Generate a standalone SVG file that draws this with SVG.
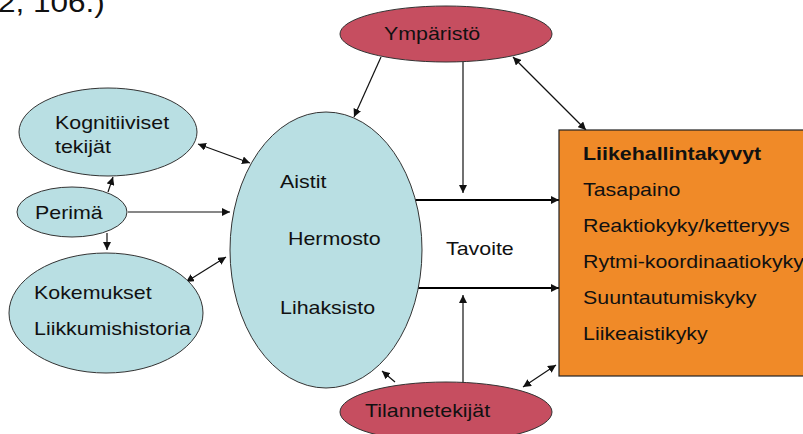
<svg xmlns="http://www.w3.org/2000/svg" width="803" height="434" viewBox="0 0 803 434">
<defs>
<style>
text{font-family:"Liberation Sans",Arial,sans-serif;font-size:19px;fill:#111;}
.blue{fill:#B9DFE3;stroke:#333;stroke-width:1;}
.red{fill:#C64E60;stroke:#333;stroke-width:1;}
.orange{fill:#F08A28;stroke:#222;stroke-width:1.2;}
.c{stroke:#111;stroke-width:1.2;fill:none;}
.thick{stroke:#000;stroke-width:2.2;fill:none;}
</style>
<marker id="ah" viewBox="0 0 10 10" refX="10" refY="5" markerWidth="8" markerHeight="8" markerUnits="userSpaceOnUse" orient="auto-start-reverse">
<path d="M0,0 L10,5 L0,10 z" fill="#111"/>
</marker>
</defs>
<rect width="803" height="434" fill="#fff"/>
<text transform="translate(-2 12) scale(1.126 1)" style="font-size:28px">2, 106.)</text>

<g id="connectors">
<line class="c" x1="381" y1="57" x2="354" y2="117" marker-end="url(#ah)"/>
<line class="c" x1="198" y1="144" x2="250" y2="163" marker-start="url(#ah)" marker-end="url(#ah)"/>
<line class="c" x1="108" y1="192" x2="113" y2="177" marker-end="url(#ah)"/>
<line class="c" x1="128" y1="212" x2="230" y2="212" marker-end="url(#ah)"/>
<line class="c" x1="107" y1="233" x2="107" y2="250" marker-end="url(#ah)"/>
<line class="c" x1="186" y1="282" x2="226" y2="257" marker-start="url(#ah)" marker-end="url(#ah)"/>
<line class="c" x1="463" y1="62" x2="463" y2="193" marker-end="url(#ah)"/>
<line class="c" x1="513" y1="57" x2="586" y2="130" marker-start="url(#ah)" marker-end="url(#ah)"/>
<line class="thick" x1="415" y1="200" x2="559" y2="200" marker-end="url(#ah)"/>
<line class="thick" x1="415" y1="288" x2="559" y2="288" marker-end="url(#ah)"/>
<line class="c" x1="463" y1="383" x2="463" y2="295" marker-end="url(#ah)"/>
<line class="c" x1="523" y1="387" x2="556" y2="365" marker-start="url(#ah)" marker-end="url(#ah)"/>
<line class="c" x1="395" y1="382" x2="382" y2="371" marker-end="url(#ah)"/>
</g>

<g id="ymparisto">
<ellipse class="red" cx="446" cy="34" rx="106" ry="28"/>
<text transform="translate(384 40) scale(1.126 1)">Ympäristö</text>
</g>

<g id="kognitiiviset">
<ellipse class="blue" cx="108" cy="132" rx="89" ry="44"/>
<text transform="translate(55 129) scale(1.126 1)">Kognitiiviset</text>
<text transform="translate(55 153) scale(1.126 1)">tekijät</text>
</g>

<g id="perima">
<ellipse class="blue" cx="72" cy="212" rx="55" ry="25"/>
<text transform="translate(35 219) scale(1.126 1)">Perimä</text>
</g>

<g id="kokemukset">
<ellipse class="blue" cx="106" cy="313" rx="97" ry="60"/>
<text transform="translate(34 299) scale(1.126 1)">Kokemukset</text>
<text transform="translate(34 335) scale(1.126 1)">Liikkumishistoria</text>
</g>

<g id="aistit">
<ellipse class="blue" cx="326" cy="250" rx="96" ry="138"/>
<text transform="translate(280 188) scale(1.126 1)">Aistit</text>
<text transform="translate(288 245) scale(1.126 1)">Hermosto</text>
<text transform="translate(280 314) scale(1.126 1)">Lihaksisto</text>
</g>

<g id="tavoite">
<text transform="translate(446 255) scale(1.126 1)">Tavoite</text>
</g>

<g id="tilannetekijat">
<ellipse class="red" cx="446" cy="412" rx="106" ry="30"/>
<text transform="translate(365 417) scale(1.126 1)">Tilannetekijät</text>
</g>

<g id="liikehallintakyvyt">
<rect class="orange" x="559" y="130" width="260" height="246"/>
<text transform="translate(583 160) scale(1.126 1)" style="font-weight:bold">Liikehallintakyvyt</text>
<text transform="translate(583 196) scale(1.126 1)">Tasapaino</text>
<text transform="translate(583 232) scale(1.126 1)">Reaktiokyky/ketteryys</text>
<text transform="translate(583 268) scale(1.126 1)">Rytmi-koordinaatiokyky</text>
<text transform="translate(583 304) scale(1.126 1)">Suuntautumiskyky</text>
<text transform="translate(583 340) scale(1.126 1)">Liikeaistikyky</text>
</g>
</svg>
